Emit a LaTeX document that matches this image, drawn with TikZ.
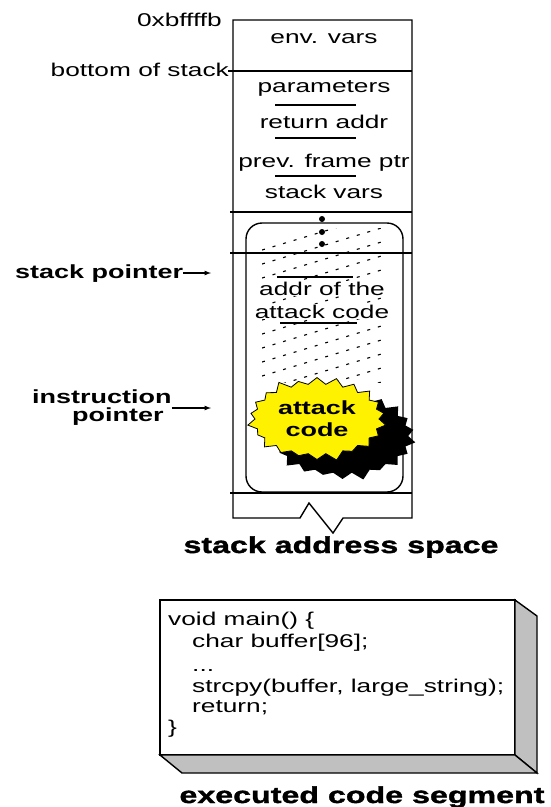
\documentclass[tikz,border=0pt]{standalone}
\usepackage{fontspec}
\setmainfont{Liberation Sans}[FakeStretch=1.42]
\newfontfamily\heavyfont{Liberation Sans}[FakeStretch=1.4,BoldFeatures={FakeBold=1.5}]
\usetikzlibrary{shapes.symbols,shadows}

\definecolor{boxgrey}{RGB}{192,192,192}

\tikzset{
    plain/.style={font=\fontsize{18.5}{21.6}\selectfont, inner sep=0pt},
    ptrtext/.style={font=\fontsize{19}{22}\selectfont\bfseries, inner sep=0pt},
    heading/.style={font=\heavyfont\fontsize{23}{26}\selectfont\bfseries, inner sep=0pt},
    frame/.style={line width=1.4pt},
    ptr/.style={line width=1.2pt, -latex},
}

\begin{document}
\begin{tikzpicture}[x=1pt, y=-1pt]
    \useasboundingbox (0,0) rectangle (551,807);

    % Stapelrahmen mit Kerbe unten
    \draw[frame] (300,518) -- (233,518) -- (233,20) -- (412,20) -- (412,518)
        -- (343,518) -- (333,533) -- (309,503) -- cycle;
    \foreach \y/\xl in {71/228, 212/230, 253/230, 493/230} {
        \draw[frame] (\xl,\y) -- (412,\y);
    }

    \node (top) [plain, anchor=base east] at (222,26) {0xbffffb};
    \node (bos) [plain, anchor=base east] at (229,76) {bottom of stack};

    % Eintraege des Rahmens
    \foreach \name/\y/\txt in {env/43.5/env. vars, par/92.5/parameters, ret/128/return addr,
        prev/167/prev. frame ptr, vars/198/stack vars} {
        \node (\name) [plain, anchor=base] at (324,\y) {\txt};
    }
    \foreach \y in {105,138,176} {
        \draw[line width=1.1pt] (275,\y) -- (356,\y);
    }

    % Puffer
    \draw[frame, rounded corners=16pt] (246,223) rectangle (403,492);
    \foreach \y in {219,232,244} {
        \fill (322,\y) circle (3pt);
    }
    \begin{scope}
        \clip (262,228) rectangle (388,382);
        \foreach \y in {250,264,...,432} {
            \draw[line width=1.1pt, dash pattern=on 3pt off 8pt] (262,\y) -- (388,\y-38);
        }
    \end{scope}
    \node (addr) [plain, anchor=base, fill=white, inner sep=1pt] at (322,295) {addr of the};
    \node (addr2) [plain, anchor=base, fill=white, inner sep=1pt] at (322,318) {attack code};
    \draw[line width=1.1pt] (277,277) -- (353,277);
    \draw[line width=1.1pt] (280,323) -- (357,323);

    \node (atk) [starburst, starburst points=22, starburst point height=9pt,
        draw, fill=yellow, line width=0.8pt, minimum width=142pt, minimum height=88pt,
        align=center, ptrtext, inner sep=1pt,
        drop shadow={shadow xshift=24pt, shadow yshift=-16pt, shadow scale=1.06,
            fill=black, opacity=1}]
        at (317,419) {attack\\code};

    % Zeiger
    \node (sp) [ptrtext, anchor=base west] at (15,278) {stack pointer};
    \coordinate (spend) at (211,273);
    \draw[ptr] (spend -| sp.east) -- (spend);

    \node (ip1) [ptrtext, anchor=base west] at (32,403) {instruction};
    \node (ip2) [ptrtext, anchor=base west] at (72,421) {pointer};
    \coordinate (ipend) at (211,408);
    \draw[ptr] (ipend -| ip1.east) -- (ipend);

    \node (stk) [heading, anchor=base] at (341,553) {stack address space};

    % Codekasten
    \draw[frame, fill=white] (160,600) rectangle (515,755);
    \draw[frame, fill=boxgrey] (515,600) -- (537,616) -- (537,773) -- (515,755) -- cycle;
    \draw[frame, fill=boxgrey] (160,755) -- (515,755) -- (537,773) -- (182,773) -- cycle;
    \foreach \name/\x/\y/\txt in {c1/168/625/{void main() \{}, c2/192/647/{char buffer[96];},
        c3/192/671/{...}, c4/192/692/{strcpy(buffer, large\_string);},
        c5/192/712/{return;}, c6/168/733/{\}}} {
        \node (\name) [plain, anchor=base west] at (\x,\y) {\txt};
    }

    \node (seg) [heading, anchor=base] at (362,803) {executed code segment};
\end{tikzpicture}
\end{document}
